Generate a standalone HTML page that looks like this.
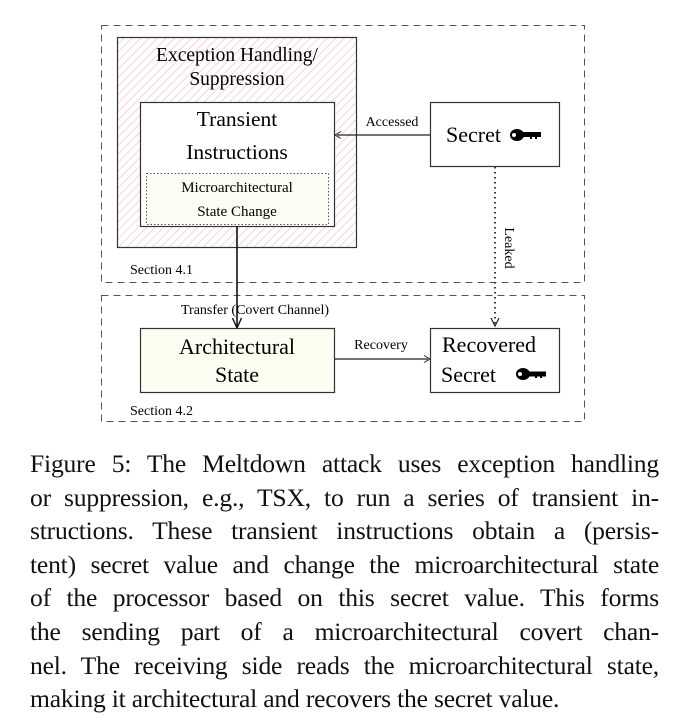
<!DOCTYPE html>
<html><head><style>
body{margin:0;width:682px;height:724px;background:#fff;position:relative;font-family:"Liberation Serif",serif;color:#111;overflow:hidden}
.cap{position:absolute;left:30px;top:447px;width:629px;font-size:25.6px;line-height:33.6px;letter-spacing:-0.2px}
.cap div{text-align:justify;text-align-last:justify;height:33.6px;white-space:nowrap}
.cap div.last{text-align-last:left}
</style></head><body>
<svg width="682" height="440" style="position:absolute;left:0;top:0" font-family="Liberation Serif, serif">
<defs>
<pattern id="h" width="6" height="6" patternUnits="userSpaceOnUse" patternTransform="rotate(45)">
<rect width="6" height="6" fill="#fff"/><line x1="0" y1="0" x2="0" y2="6" stroke="#f3c8c8" stroke-width="1.5"/></pattern>
</defs>
<rect x="101.5" y="25.5" width="483" height="257" fill="none" stroke="#555" stroke-dasharray="7,5"/>
<rect x="101.5" y="295.5" width="483" height="126" fill="none" stroke="#555" stroke-dasharray="7,5"/>
<rect x="117.5" y="37.5" width="239" height="210" fill="url(#h)" stroke="#333" stroke-width="1.2"/>
<text x="237" y="61" font-size="19.5" text-anchor="middle">Exception Handling/</text>
<text x="237" y="85" font-size="19.5" text-anchor="middle">Suppression</text>
<rect x="140.5" y="102.5" width="194" height="124" fill="#fff" stroke="#333" stroke-width="1.2"/>
<text x="237" y="126" font-size="21.5" text-anchor="middle">Transient</text>
<text x="237" y="159" font-size="21.5" text-anchor="middle">Instructions</text>
<rect x="146.5" y="173.5" width="182" height="51" fill="#fdfdf5" stroke="#555" stroke-dasharray="1.5,2"/>
<text x="237" y="192" font-size="15" text-anchor="middle">Microarchitectural</text>
<text x="237" y="216" font-size="15" text-anchor="middle">State Change</text>
<rect x="430.5" y="102.5" width="129" height="64" fill="#fff" stroke="#333" stroke-width="1.2"/>
<text x="446" y="142" font-size="22">Secret</text>
<g fill="#000"><ellipse cx="517" cy="135" rx="7" ry="6"/><rect x="520" y="132" width="21" height="5"/><rect x="530" y="136" width="2" height="3"/><rect x="535" y="136" width="2" height="3"/></g><circle cx="514" cy="135" r="2" fill="#fff"/>
<line x1="430" y1="135" x2="337" y2="135" stroke="#222" stroke-width="1.2"/>
<path d="M341,131.5 L335,135 L341,138.5" fill="none" stroke="#222"/>
<text x="392" y="126" font-size="14" text-anchor="middle">Accessed</text>
<line x1="495" y1="167" x2="495" y2="324" stroke="#222" stroke-width="1.8" stroke-dasharray="1.5,3.5"/>
<path d="M491,318 L495,326 L499,318" fill="none" stroke="#222" stroke-width="1.2"/>
<text transform="translate(505,248) rotate(90)" font-size="14" text-anchor="middle">Leaked</text>
<text x="130" y="274" font-size="14">Section 4.1</text>
<line x1="237" y1="226" x2="237" y2="326" stroke="#111" stroke-width="1.6"/>
<path d="M232.5,318 L237,328 L241.5,318" fill="none" stroke="#111" stroke-width="1.4"/>
<text x="181" y="314" font-size="14">Transfer (Covert Channel)</text>
<rect x="140.5" y="328.5" width="194" height="64" fill="#fdfdf2" stroke="#333" stroke-width="1.2"/>
<text x="237" y="354" font-size="22" text-anchor="middle">Architectural</text>
<text x="237" y="382" font-size="22" text-anchor="middle">State</text>
<line x1="334" y1="359" x2="428" y2="359" stroke="#222" stroke-width="1.2"/>
<path d="M424,355.5 L430,359 L424,362.5" fill="none" stroke="#222"/>
<text x="381" y="349" font-size="14" text-anchor="middle">Recovery</text>
<rect x="430.5" y="328.5" width="129" height="64" fill="#fff" stroke="#333" stroke-width="1.2"/>
<text x="442" y="352" font-size="22">Recovered</text>
<text x="441" y="382" font-size="22">Secret</text>
<g fill="#000"><ellipse cx="523" cy="374" rx="7" ry="6"/><rect x="526" y="371.5" width="20" height="5"/><rect x="535" y="375" width="2" height="3"/><rect x="540" y="375" width="2" height="3"/></g><circle cx="520" cy="374" r="2" fill="#fff"/>
<text x="130" y="415" font-size="14">Section 4.2</text>
</svg>
<div class="cap">
<div>Figure 5: The Meltdown attack uses exception handling</div>
<div>or suppression, e.g., TSX, to run a series of transient in-</div>
<div>structions. These transient instructions obtain a (persis-</div>
<div>tent) secret value and change the microarchitectural state</div>
<div>of the processor based on this secret value. This forms</div>
<div>the sending part of a microarchitectural covert chan-</div>
<div>nel. The receiving side reads the microarchitectural state,</div>
<div class="last">making it architectural and recovers the secret value.</div>
</div>
</body></html>
